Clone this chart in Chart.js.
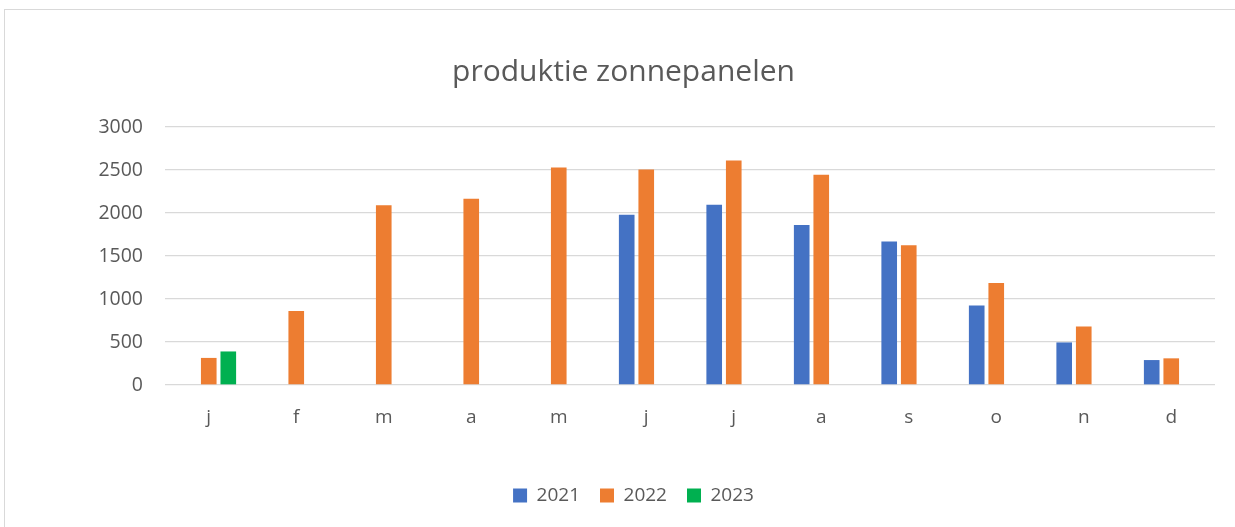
<!DOCTYPE html>
<html>
<head>
<meta charset="utf-8">
<script src="https://cdn.jsdelivr.net/npm/chart.js@4"></script>
<style>
  html, body { margin: 0; padding: 0; background: #ffffff; overflow: hidden; }
  /* light frame around the chart, as in the spreadsheet export */
  #frame {
    position: absolute; left: 4px; top: 9px;
    width: 1240px; height: 530px;
    border: 1px solid #d9d9d9;
  }
</style>
</head>
<body>
<div id="frame"><canvas id="chart" width="1240" height="517"></canvas></div>
<script>
// months, Dutch initials
var months = ['j', 'f', 'm', 'a', 'm', 'j', 'j', 'a', 's', 'o', 'n', 'd'];

// production per month (kWh)
var prod2021 = [null, null, null, null, null, 1980, 2095, 1860, 1670, 925, 495, 290];
var prod2022 = [315, 860, 2090, 2165, 2530, 2505, 2610, 2445, 1625, 1185, 680, 310];
var prod2023 = [390, null, null, null, null, null, null, null, null, null, null, null];

var yTicks = [0, 500, 1000, 1500, 2000, 2500, 3000];

var textColour = '#595959';
var gridColour = '#d9d9d9';
var fontFamily = "'Open Sans', sans-serif";

function makeBars(label, data, colour) {
  return {
    label: label,
    data: data,
    backgroundColor: colour,
    borderWidth: 0,
    categoryPercentage: 0.67,
    barPercentage: 0.8
  };
}

// the legend in the original sits a little right of the title
var legendNudge = {
  id: 'legendNudge',
  afterLayout: function (chart) {
    chart.legend.left += 10;
    chart.legend.right += 10;
  }
};

new Chart(document.getElementById('chart'), {
  type: 'bar',
  data: {
    labels: months,
    datasets: [
      makeBars('2021', prod2021, '#4472C4'),
      makeBars('2022', prod2022, '#ED7D31'),
      makeBars('2023', prod2023, '#00B050')
    ]
  },
  plugins: [legendNudge],
  options: {
    responsive: false,
    animation: false,
    layout: { padding: { left: 27, right: 30, top: 0, bottom: 12 } },
    plugins: {
      title: {
        display: true,
        text: 'produktie zonnepanelen',
        color: textColour,
        font: { family: fontFamily, size: 30, weight: 'normal' },
        padding: { top: 44, bottom: 37 }
      },
      legend: {
        position: 'bottom',
        labels: {
          color: textColour,
          font: { family: fontFamily, size: 19 },
          boxWidth: 14,
          boxHeight: 14,
          padding: 20
        }
      },
      tooltip: { enabled: false }
    },
    scales: {
      x: {
        grid: { display: false },
        border: { display: false },
        afterFit: function (scale) { scale.height = 81; },
        ticks: {
          color: textColour,
          font: { family: fontFamily, size: 19 },
          padding: 13
        }
      },
      y: {
        min: 0,
        max: 3000,
        afterFit: function (scale) { scale.width = 133; },
        afterBuildTicks: function (scale) {
          scale.ticks = yTicks.map(function (v) { return { value: v }; });
        },
        grid: { color: gridColour, lineWidth: 1.3, drawTicks: false },
        border: { display: false },
        ticks: {
          color: textColour,
          font: { family: fontFamily, size: 19.5 },
          padding: 22,
          callback: function (value) { return String(value); }
        }
      }
    }
  }
});
</script>
</body>
</html>
